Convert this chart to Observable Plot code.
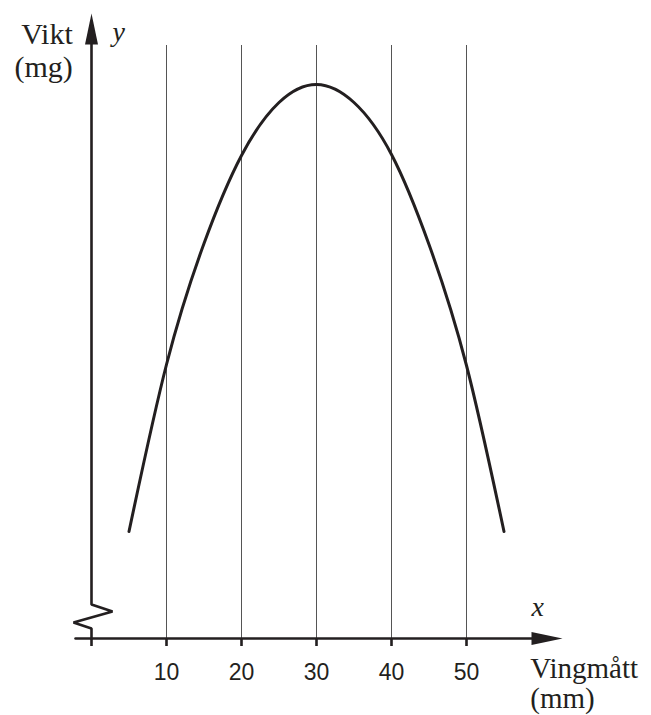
<!DOCTYPE html>
<html>
<head>
<meta charset="utf-8">
<script src="https://cdn.jsdelivr.net/npm/d3@7"></script>
<script src="https://cdn.jsdelivr.net/npm/@observablehq/plot@0.6"></script>
<style>
  html, body { margin: 0; padding: 0; background: #fff; }
  #chart svg text, #chart svg tspan { font-family: "Liberation Serif", "DejaVu Serif", "Times New Roman", serif !important; }
  #chart svg g[aria-label="x-axis tick label"] text { font-family: "Liberation Sans", Arial, sans-serif !important; }
</style>
</head>
<body>
<div id="chart"></div>
<script>
// Data
const wingSize = [5, 10, 15, 20, 25, 30, 35, 40, 45, 50, 55];           // Vingmått (mm)
const weight   = [10.7, 27.4, 39.5, 48.3, 53.6, 55.4, 53.6, 48.4, 39.4, 27.3, 10.7]; // Vikt (arbitrary units, no scale)
const xTicks = [0, 10, 20, 30, 40, 50];
const xTickLabels = ["", "10", "20", "30", "40", "50"];
const gridX = [10, 20, 30, 40, 50];
const yLabel = "Vikt\n(mg)";
const xLabel = "Vingmått\n(mm)";
const yVar = "y";
const xVar = "x";

const data = wingSize.map((x, i) => ({x, y: weight[i]}));
const ink = "#231f20";

// filled arrowhead, tip at the anchor, pointing up (rotated for x-axis)
const arrowHead = {
  draw(ctx) {
    ctx.moveTo(0, 0);
    ctx.lineTo(-6.5, 31);
    ctx.lineTo(6.5, 31);
    ctx.closePath();
  }
};

const chart = Plot.plot({
  width: 651,
  height: 715,
  marginLeft: 91,
  marginRight: 110,
  marginTop: 38,
  marginBottom: 77,
  style: {background: "#fff", color: ink},
  x: {domain: [0, 60], axis: null},
  y: {domain: [0, 60], axis: null},
  marks: [
    // vertical grid lines
    Plot.ruleX(gridX, {x: d => d, y1: 0, y2: 59.3, stroke: "#555", strokeWidth: 1}),
    // x axis line
    Plot.line([[-2.13, 0], [60, 0]], {x: d => d[0], y: d => d[1], stroke: ink, strokeWidth: 2.6}),
    // y axis line with break
    Plot.line([[0, 60], [0, 3.4], [2.8, 2.7], [-2.4, 1.6], [0, 1.0], [0, 0]],
      {x: d => d[0], y: d => d[1], stroke: ink, strokeWidth: 2.6, strokeLinejoin: "miter"}),
    // arrowheads
    Plot.dot([[62.8, 0]], {x: d => d[0], y: d => d[1], symbol: arrowHead, fill: ink, stroke: "none", rotate: 90}),
    Plot.dot([[0, 62.5]], {x: d => d[0], y: d => d[1], symbol: arrowHead, fill: ink, stroke: "none"}),
    // x axis ticks and labels
    Plot.axisX(xTicks, {
      tickSize: 8, tickPadding: 17, fontSize: 23, strokeWidth: 2.6,
      tickFormat: (d) => xTickLabels[xTicks.indexOf(d)], label: null
    }),
    // the curve
    Plot.line(data, {x: "x", y: "y", curve: "natural", stroke: ink, strokeWidth: 3}),
    // labels
    Plot.text([yLabel], {x: -2.5, y: 56.2, text: d => d, textAnchor: "end", lineAnchor: "bottom",
      lineHeight: 1.1, fontSize: 30, fill: ink}),
    Plot.text([xLabel], {x: 58.5, y: -6.9, text: d => d, textAnchor: "start", lineAnchor: "bottom",
      lineHeight: 1.02, fontSize: 29, fill: ink}),
    Plot.text([yVar], {x: 2.8, y: 59.8, text: d => d, textAnchor: "start", lineAnchor: "bottom",
      fontSize: 28, fontStyle: "italic", fill: ink}),
    Plot.text([xVar], {x: 59.5, y: 2.3, text: d => d, textAnchor: "middle", lineAnchor: "bottom",
      fontSize: 28, fontStyle: "italic", fill: ink})
  ]
});
document.getElementById("chart").appendChild(chart);
</script>
</body>
</html>
